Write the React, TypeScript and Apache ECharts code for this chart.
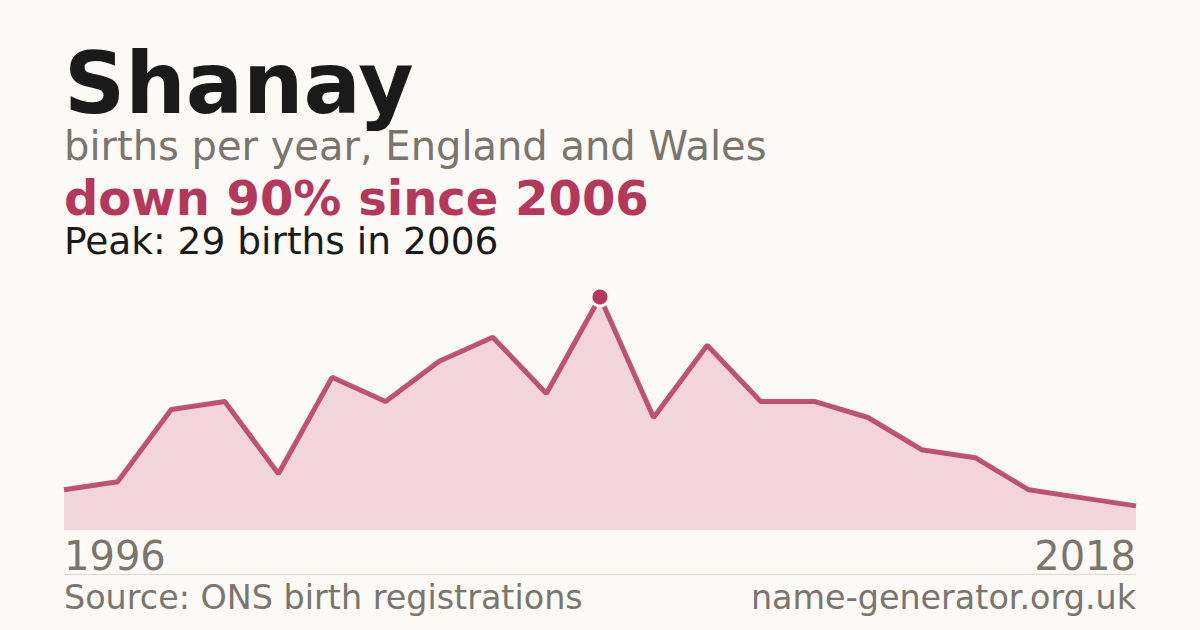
import React, { useEffect, useRef } from "react";
import * as echarts from "echarts";

const years = [
  "1996", "1997", "1998", "1999", "2000", "2001", "2002", "2003", "2004", "2005",
  "2006", "2007", "2008", "2009", "2010", "2011", "2012", "2013", "2014", "2016",
  "2018",
];
const births = [5, 6, 15, 16, 7, 19, 16, 21, 24, 17, 29, 14, 23, 16, 16, 14, 10, 9, 5, 4, 3];

const nameTitle = "Shanay";
const subtitle = "births per year, England and Wales";
const headline = "down 90% since 2006";
const peakText = "Peak: 29 births in 2006";
const sourceText = "Source: ONS birth registrations";
const siteText = "name-generator.org.uk";

const RED = "#b5375a";
const GREY = "#7a756d";
const BG = "#fbfaf6";
const FONT = "DejaVu Sans";

const App: React.FC = () => {
  const chartRef = useRef<HTMLDivElement>(null);

  useEffect(() => {
    document.body.style.margin = "0";
    if (!chartRef.current) return;
    const chart = echarts.init(chartRef.current, undefined, { renderer: "svg" });

    // text drawn with verticalAlign middle: y = baseline - 0.346 * size
    const txt = (text: string, x: number, baseline: number, size: number, color: string, weight = "normal", align = "left") => ({
      type: "text",
      x,
      y: baseline - 0.346 * size,
      style: {
        text,
        fill: color,
        font: `${weight} ${size}px "${FONT}"`,
        lineHeight: Math.round(size * 0.9),
        align,
        verticalAlign: "middle",
      },
    });

    chart.setOption({
      animation: false,
      backgroundColor: BG,
      grid: { left: 64, right: 64, top: 297, bottom: 100 },
      xAxis: {
        type: "category",
        data: years,
        boundaryGap: false,
        axisLine: { show: false },
        axisTick: { show: false },
        splitLine: { show: false },
        axisLabel: {
          interval: (i: number) => i === 0 || i === years.length - 1,
          color: GREY,
          fontFamily: FONT,
          fontSize: 40,
          margin: 6,
          alignMinLabel: "left",
          alignMaxLabel: "right",
        },
      },
      yAxis: {
        type: "value",
        min: 0,
        max: 29,
        show: false,
        splitLine: { show: false },
      },
      series: [
        {
          type: "line",
          data: births,
          symbol: "none",
          lineStyle: { color: RED, width: 5, opacity: 0.85 },
          areaStyle: { color: "#f2d5db", opacity: 1 },
          markPoint: {
            data: [{ type: "max" }],
            symbol: "circle",
            symbolSize: 18,
            itemStyle: { color: RED, borderColor: BG, borderWidth: 3 },
            label: { show: false },
          },
        },
      ],
      graphic: [
        txt(nameTitle, 64, 113, 85, "#1a1a1a", "bold"),
        txt(subtitle, 64, 160, 40, GREY),
        txt(headline, 64, 215, 48, RED, "bold"),
        txt(peakText, 64, 254, 37.5, "#1a1a1a"),
        {
          type: "line",
          shape: { x1: 64, y1: 574.5, x2: 1136, y2: 574.5 },
          style: { stroke: "#dcd9d2", lineWidth: 1 },
        },
        txt(sourceText, 64, 609, 33.4, GREY),
        txt(siteText, 1136, 609, 33.4, GREY, "normal", "right"),
      ],
    });

    return () => chart.dispose();
  }, []);

  return <div ref={chartRef} style={{ width: 1200, height: 630 }} />;
};

export default App;
